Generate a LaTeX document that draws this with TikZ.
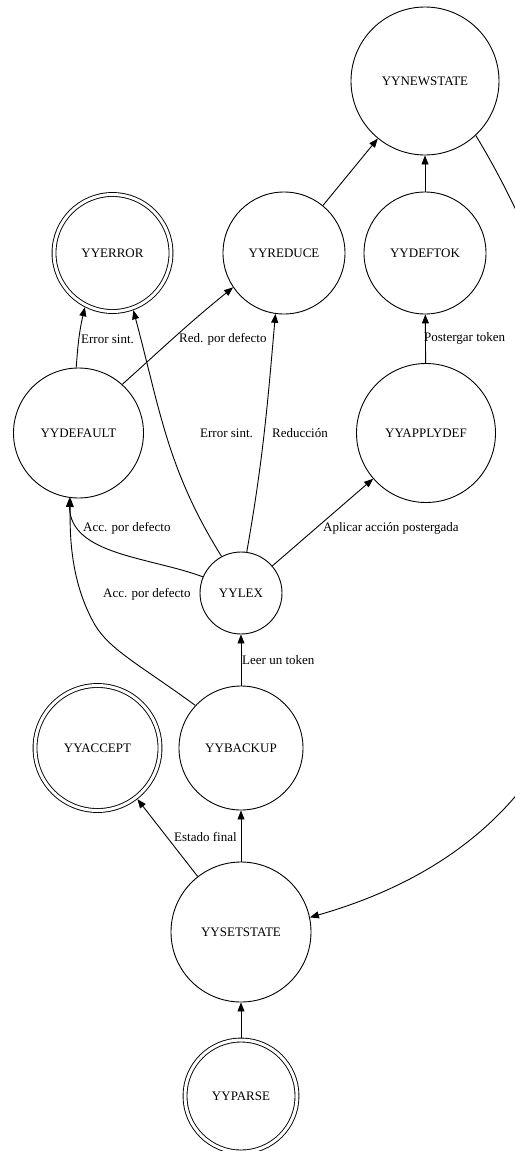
\documentclass[tikz,border=0pt]{standalone}
\usepackage{fontspec}
\setmainfont{Liberation Serif}
\usetikzlibrary{arrows.meta}
\begin{document}
\begin{tikzpicture}[x=1pt,y=1pt,
  st/.style={circle,draw,line width=0.9pt,inner sep=0pt,font=\fontsize{13}{15}\selectfont},
  dbl/.style={st,double,double distance=3pt,outer sep=2.4pt},
  conn/.style={line width=0.9pt,-{Triangle[length=9pt,width=7pt]}},
  lbl/.style={anchor=west,inner sep=0pt,font=\fontsize{13}{15}\selectfont}]
\useasboundingbox (0,0) rectangle (514,-1151);
% states
\node[st,minimum size=148pt] (new) at (425,-81) {YYNEWSTATE};
\node[dbl,minimum size=117pt] (err) at (112.5,-253) {YYERROR};
\node[st,minimum size=122pt] (red) at (284,-253) {YYREDUCE};
\node[st,minimum size=122pt] (dtk) at (425,-253) {YYDEFTOK};
\node[st,minimum size=130pt] (def) at (78.5,-433) {YYDEFAULT};
\node[st,minimum size=139pt] (app) at (426,-433) {YYAPPLYDEF};
\node[st,minimum size=82pt] (lex) at (241,-593) {YYLEX};
\node[dbl,minimum size=125pt] (acc) at (97.5,-748) {YYACCEPT};
\node[st,minimum size=124pt] (bak) at (241,-748) {YYBACKUP};
\node[st,minimum size=140pt] (set) at (241,-932) {YYSETSTATE};
\node[dbl,minimum size=112pt] (par) at (241,-1096) {YYPARSE};
% edges
\draw[conn] (red) -- (new);
\draw[conn] (dtk) -- (new);
\draw[conn] (new.-47) .. controls (611,-358) and (720,-800) .. (set.12);
\draw[conn] (def.92) to[out=86,in=-103] (err.243);
\draw[conn] (def.48) to[out=42,in=-141] (red.214);
\draw[conn] (lex.118) to[out=122,in=-75] (err.290);
\draw[conn] (lex.82) to[out=80,in=-95] (red.-98);
\draw[conn] (lex) -- (app);
\draw[conn] (app) -- (dtk);
\draw[conn] (lex.157) .. controls (150,-557) and (70,-555) .. (def.-98);
\draw[conn] (bak.137) .. controls (140,-665) and (110,-650) .. (95,-625) .. controls (75,-590) and (69,-550) .. (def.-97);
\draw[conn] (bak) -- (lex);
\draw[conn] (set) -- (acc);
\draw[conn] (set) -- (bak);
\draw[conn] (par) -- (set);
% labels
\node[lbl] (l1) at (81,-339) {Error sint.};
\node[lbl] (l2) at (179,-339) {Red. por defecto};
\node[lbl] (l3) at (200,-433) {Error sint.};
\node[lbl] (l4) at (272,-433) {Reducción};
\node[lbl] (l5) at (424,-338) {Postergar token};
\node[lbl] (l6) at (83,-528) {Acc. por defecto};
\node[lbl] (l7) at (323,-528) {Aplicar acción postergada};
\node[lbl] (l8) at (103,-594) {Acc. por defecto};
\node[lbl] (l9) at (242,-660) {Leer un token};
\node[lbl] (l10) at (174,-837) {Estado final};
\end{tikzpicture}
\end{document}
